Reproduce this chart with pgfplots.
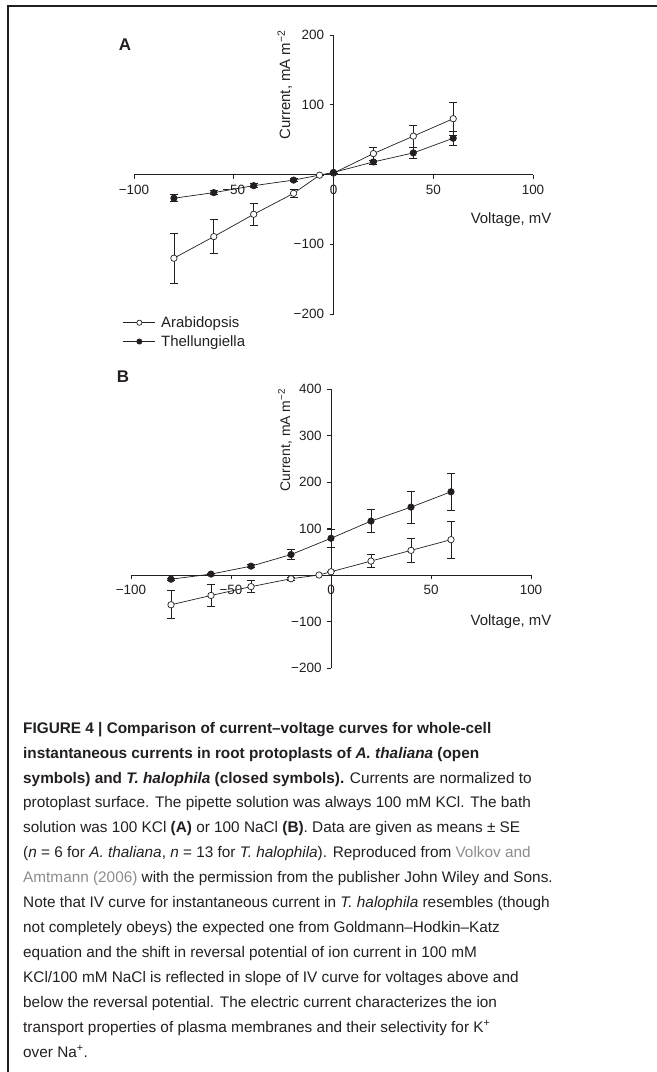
\documentclass[border=0pt]{standalone}
\usepackage{pgfplots}
\pgfplotsset{compat=1.18}
\usepackage{pgfplotstable}
\usepackage{fontspec}
\setmainfont{Liberation Sans}
\definecolor{ink}{HTML}{231F20}
\definecolor{linkgray}{HTML}{8C8C8C}

% Panel A (100 mM KCl)
\pgfplotstableread{
x y e
-80 -120 36
-60 -89 24
-40 -57 16
-20 -27 6
-7 -1 0
0 2 0
20 30 9
40 55 16
60 80 24
}\araA
\pgfplotstableread{
x y e
-80 -34 5
-60 -26 3
-40 -16 3
-20 -8 2
0 3 2
20 18 3
40 31 8
60 52 10
}\theA
% Panel B (100 mM NaCl)
\pgfplotstableread{
x y e
-80 -64 30
-60 -44 23
-40 -25 13
-20 -8 3
-6 0 0
0 7 0
20 30 14
40 53 25
60 76 40
}\araB
\pgfplotstableread{
x y e
-80 -9 2
-60 2 2
-40 19 3
-20 44 11
0 79 20
20 116 25
40 146 35
60 179 40
}\theB

\pgfplotsset{
  panel/.style={
    axis lines=middle,
    axis line style={-, ink, line width=0.8bp},
    scale only axis,
    clip=false,
    xmin=-100, xmax=100,
    xtick={-100,-50,0,50,100},
    xticklabels={−100,−50,0,50,100},
    hide obscured x ticks=false,
    hide obscured y ticks=false,
    minor tick num=0,
    tick style={ink, line width=0.7bp},
    major tick length=4bp,
    tick align=outside,
    tick label style={font=\fontsize{13.5}{15}\selectfont, text=ink},
    xticklabel style={anchor=north, yshift=-3bp},
    yticklabel style={anchor=east, xshift=-2bp},
    label style={font=\fontsize{15}{17}\selectfont, text=ink},
    every axis plot/.append style={ink, line width=0.7bp},
  },
  openser/.style={mark=*, mark size=3.2bp, mark options={fill=white, draw=ink, solid, line width=0.7bp},
    error bars/.cd, y dir=both, y explicit,
    error bar style={ink, line width=0.7bp},
    error mark options={rotate=90, mark size=4bp, ink, line width=0.7bp}},
  closedser/.style={mark=*, mark size=3.2bp, mark options={fill=ink, draw=ink, solid},
    error bars/.cd, y dir=both, y explicit,
    error bar style={ink, line width=0.7bp},
    error mark options={rotate=90, mark size=4bp, ink, line width=0.7bp}},
}

\begin{document}
\begin{tikzpicture}[x=1bp,y=1bp]
\useasboundingbox (0,0) rectangle (657,-1072);
% frame
\draw[ink, line width=2bp] (8,-1080) -- (8,-6) -- (665,-6);

% Panel A
\node[font=\bfseries\fontsize{17}{20}\selectfont, text=ink] at (125,-45) {A};
\begin{axis}[panel,
  at={(134bp,-314bp)}, anchor=south west,
  width=399bp, height=279bp,
  ymin=-200, ymax=200,
  ytick={-200,-100,100,200},
  yticklabels={−200,−100,100,200},
  xlabel={Voltage, mV},
  xlabel style={at={(axis description cs:0.945,0.34)}, anchor=center},
  ylabel={Current, mA m\textsuperscript{−2}},
  ylabel style={at={(axis description cs:0.378,0.821)}, anchor=center, rotate=90},
  legend style={at={(axis description cs:-0.028,-0.003)}, anchor=north west,
    draw=none, fill=none, inner sep=0pt, row sep=3.5bp,
    font=\fontsize{15}{17}\selectfont, text=ink,
    nodes={inner sep=1.5bp}},
  legend cell align=left,
  legend image code/.code={\draw[mark repeat=2, mark phase=2, mark size=2.6bp, #1] plot coordinates {(0bp,0bp) (16bp,0bp) (32bp,0bp)};},
]
\addplot[openser] table[x=x, y=y, y error=e] {\araA};
\addlegendentry{\hspace{4bp}Arabidopsis}
\addplot[closedser] table[x=x, y=y, y error=e] {\theA};
\addlegendentry{\hspace{4bp}Thellungiella}
\end{axis}

% Panel B
\node[font=\bfseries\fontsize{17}{20}\selectfont, text=ink] at (123,-377) {B};
\begin{axis}[panel,
  at={(131bp,-668bp)}, anchor=south west,
  width=400bp, height=279bp,
  ymin=-200, ymax=400,
  ytick={-200,-100,100,200,300,400},
  yticklabels={−200,−100,100,200,300,400},
  xlabel={Voltage, mV},
  xlabel style={at={(axis description cs:0.95,0.165)}, anchor=center},
  ylabel={Current, mA m\textsuperscript{−2}},
  ylabel style={at={(axis description cs:0.385,0.817)}, anchor=center, rotate=90, font=\fontsize{14}{16}\selectfont},
]
\addplot[openser] table[x=x, y=y, y error=e] {\araB};
\addplot[closedser] table[x=x, y=y, y error=e] {\theB};
\end{axis}

% Caption
\node[anchor=base west, align=left, inner sep=0pt, text=ink,
      font=\fontsize{15.4}{25}\selectfont] at (23,-1057) {%
\textbf{FIGURE 4 | Comparison of current–voltage curves for whole-cell}\\
\textbf{instantaneous currents in root protoplasts of \textit{A. thaliana} (open}\\
\textbf{symbols) and \textit{T. halophila} (closed symbols).} Currents are normalized to\\
protoplast surface. The pipette solution was always 100 mM KCl. The bath\\
solution was 100 KCl \textbf{(A)} or 100 NaCl \textbf{(B)}. Data are given as means ± SE\\
(\textit{n} = 6 for \textit{A. thaliana}, \textit{n} = 13 for \textit{T. halophila}). Reproduced from {\color{linkgray}Volkov and}\\
{\color{linkgray}Amtmann (2006)} with the permission from the publisher John Wiley and Sons.\\
Note that IV curve for instantaneous current in \textit{T. halophila} resembles (though\\
not completely obeys) the expected one from Goldmann–Hodkin–Katz\\
equation and the shift in reversal potential of ion current in 100 mM\\
KCl/100 mM NaCl is reflected in slope of IV curve for voltages above and\\
below the reversal potential. The electric current characterizes the ion\\
transport properties of plasma membranes and their selectivity for K\textsuperscript{+}\\
over Na\textsuperscript{+}.};
\end{tikzpicture}
\end{document}
